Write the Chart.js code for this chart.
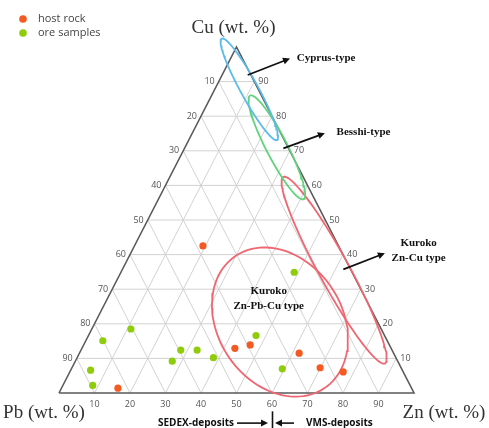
<!DOCTYPE html>
<html><head><meta charset="utf-8">
<script src="https://cdn.jsdelivr.net/npm/chart.js@4.4.0/dist/chart.umd.min.js"></script>
<style>html,body{margin:0;padding:0;background:#fff;}#wrap{position:relative;width:489px;height:428px;}</style>
</head><body><div id="wrap"><canvas id="c" width="489" height="428"></canvas></div>
<script>
// ---- data (wt. %) ----
const hostCu = [42.5, 12.9, 13.9, 11.5, 7.3, 6.1, 1.4];
const hostZn = [19.3, 43.1, 46.9, 61.9, 69.9, 77.0, 15.9];
const hostPb = [38.2, 44.0, 39.2, 26.6, 22.8, 16.9, 82.7];
const oreCu = [18.5, 15.1, 12.4, 12.4, 9.2, 10.2, 16.6, 34.9, 7.0, 6.6, 2.2];
const oreZn = [11.0, 4.8, 28.1, 32.7, 27.3, 38.4, 47.2, 48.8, 59.4, 5.6, 8.4];
const orePb = [70.5, 80.1, 59.5, 54.9, 63.5, 51.4, 36.2, 16.3, 33.6, 87.8, 89.4];
const gridTicks = [10, 20, 30, 40, 50, 60, 70, 80, 90];
const seriesNames = ['host rock', 'ore samples'];
const axisTitles = ['Cu (wt. %)', 'Pb (wt. %)', 'Zn (wt. %)'];
// deposit fields: name, centre Cu, centre Zn, semi-axes (wt.% units), tilt
const fieldNames = ['Cyprus-type', 'Besshi-type', 'Kuroko Zn-Cu type', 'Kuroko Zn-Pb-Cu type'];
const fieldCu = [87.8, 71.0, 35.5, 20.5];
const fieldZn = [9.7, 25.85, 59.75, 52.0];
const fieldA = [16.6, 16.75, 30.5, 22.85];
const fieldB = [2.5, 3.0, 4.3, 17.6];
const fieldAngle = [-62, -63.3, -62, -58.7];
const fieldColors = ['#5cbbe9', '#62d27c', '#ef6670', '#ef6670'];
const sedexVmsBoundaryZn = 60;

function toXY(cu, zn, pb) {
  const s = cu + zn + pb;
  const c = cu * 100 / s, z = zn * 100 / s;
  return {x: z + c / 2, y: c};
}
function seg(a, b) { return [toXY(a[0], a[1], a[2]), toXY(b[0], b[1], b[2])]; }

const datasets = [];
const lineBase = {type: 'scatter', showLine: true, pointRadius: 0, fill: false, clip: false, tension: 0};
gridTicks.forEach(t => {
  datasets.push(Object.assign({}, lineBase, {data: seg([t, 0, 100 - t], [t, 100 - t, 0]), borderColor: '#d2d2d2', borderWidth: 1, order: 10}));
  datasets.push(Object.assign({}, lineBase, {data: seg([0, t, 100 - t], [100 - t, t, 0]), borderColor: '#d2d2d2', borderWidth: 1, order: 10}));
  datasets.push(Object.assign({}, lineBase, {data: seg([0, 100 - t, t], [100 - t, 0, t]), borderColor: '#d2d2d2', borderWidth: 1, order: 10}));
});
datasets.push(Object.assign({}, lineBase, {
  data: [toXY(0, 0, 100), toXY(0, 100, 0), toXY(100, 0, 0), toXY(0, 0, 100)],
  borderColor: '#5a5a5a', borderWidth: 1.6, order: 9
}));
fieldNames.forEach((n, i) => {
  const c = toXY(fieldCu[i], fieldZn[i], 100 - fieldCu[i] - fieldZn[i]);
  const th = fieldAngle[i] * Math.PI / 180;
  const pts = [];
  for (let k = 0; k <= 120; k++) {
    const t = k / 120 * 2 * Math.PI;
    const ex = fieldA[i] * Math.cos(t), ey = fieldB[i] * Math.sin(t);
    pts.push({x: c.x + ex * Math.cos(th) - ey * Math.sin(th), y: c.y + ex * Math.sin(th) + ey * Math.cos(th)});
  }
  datasets.push(Object.assign({}, lineBase, {data: pts, borderColor: fieldColors[i], borderWidth: 1.8, order: 5}));
});
datasets.push({type: 'scatter', label: seriesNames[0], data: hostCu.map((c, i) => toXY(c, hostZn[i], hostPb[i])),
  backgroundColor: '#f45a22', borderWidth: 0, pointRadius: 3.6, order: 1, clip: false});
datasets.push({type: 'scatter', label: seriesNames[1], data: oreCu.map((c, i) => toXY(c, oreZn[i], orePb[i])),
  backgroundColor: '#8fcc0c', borderWidth: 0, pointRadius: 3.6, order: 1, clip: false});

function arrow(ctx, x1, y1, x2, y2) {
  const ang = Math.atan2(y2 - y1, x2 - x1), h = 7;
  ctx.beginPath(); ctx.moveTo(x1, y1); ctx.lineTo(x2 - Math.cos(ang) * h * 0.8, y2 - Math.sin(ang) * h * 0.8); ctx.stroke();
  ctx.beginPath(); ctx.moveTo(x2, y2);
  ctx.lineTo(x2 - h * Math.cos(ang) + 3.5 * Math.sin(ang), y2 - h * Math.sin(ang) - 3.5 * Math.cos(ang));
  ctx.lineTo(x2 - h * Math.cos(ang) - 3.5 * Math.sin(ang), y2 - h * Math.sin(ang) + 3.5 * Math.cos(ang));
  ctx.closePath(); ctx.fill();
}

const textPlugin = {
  id: 'ternaryText',
  afterDraw(chart) {
    const ctx = chart.ctx, xs = chart.scales.x, ys = chart.scales.y;
    const P = (x, y) => [xs.getPixelForValue(x), ys.getPixelForValue(y)];
    const T = (cu, zn, pb) => { const d = toXY(cu, zn, pb); return P(d.x, d.y); };
    ctx.save();
    // tick labels
    ctx.font = '9px "Open Sans"'; ctx.fillStyle = '#555'; ctx.textBaseline = 'middle';
    gridTicks.forEach(t => {
      let p = T(100 - t, 0, t); ctx.textAlign = 'right'; ctx.fillText(String(t), p[0] - 4, p[1]);
      p = T(t, 100 - t, 0); ctx.textAlign = 'left'; ctx.fillText(String(t), p[0] + 4, p[1]);
      p = T(0, t, 100 - t); ctx.textAlign = 'center'; ctx.fillText(String(t), p[0], p[1] + 11);
    });
    // axis titles
    ctx.font = '19px "Liberation Serif"'; ctx.fillStyle = '#333'; ctx.textAlign = 'center';
    let a = T(100, 0, 0); ctx.fillText(axisTitles[0], a[0] - 3, a[1] - 19);
    a = T(0, 0, 100); ctx.fillText(axisTitles[1], a[0] - 15, a[1] + 20);
    a = T(0, 100, 0); ctx.fillText(axisTitles[2], a[0] + 30, a[1] + 20);
    // field labels
    ctx.font = 'bold 11px "Liberation Serif"'; ctx.fillStyle = '#111';
    ctx.textAlign = 'left';
    let p = P(66.96, 96.8); ctx.fillText(fieldNames[0], p[0], p[1]);
    p = P(78.2, 75.4); ctx.fillText(fieldNames[1], p[0], p[1]);
    ctx.textAlign = 'center';
    p = P(101.3, 43.3); ctx.fillText('Kuroko', p[0], p[1]);
    p = P(101.3, 38.9); ctx.fillText('Zn-Cu type', p[0], p[1]);
    p = P(59.07, 29.5); ctx.fillText('Kuroko', p[0], p[1]);
    p = P(59.07, 25.1); ctx.fillText('Zn-Pb-Cu type', p[0], p[1]);
    // arrows
    ctx.strokeStyle = '#111'; ctx.fillStyle = '#111'; ctx.lineWidth = 1.8;
    let s = P(53.15, 91.9), e = P(65.07, 96.7); arrow(ctx, s[0], s[1], e[0], e[1]);
    s = P(63.2, 70.7); e = P(74.9, 75.1); arrow(ctx, s[0], s[1], e[0], e[1]);
    s = P(80.1, 35.75); e = P(91.8, 40.4); arrow(ctx, s[0], s[1], e[0], e[1]);
    // SEDEX / VMS
    const bx = xs.getPixelForValue(sedexVmsBoundaryZn);
    const by = ys.getPixelForValue(-8.7);
    ctx.font = 'bold 10px "Open Sans"'; ctx.textBaseline = 'middle';
    ctx.textAlign = 'right'; ctx.fillText('SEDEX-deposits', bx - 38, by);
    ctx.textAlign = 'left'; ctx.fillText('VMS-deposits', bx + 34, by);
    ctx.lineWidth = 1.6;
    arrow(ctx, bx - 35, by, bx - 4, by);
    arrow(ctx, bx + 22, by, bx + 3, by);
    ctx.beginPath(); ctx.moveTo(bx + 0.5, ys.getPixelForValue(-5.3)); ctx.lineTo(bx + 0.5, ys.getPixelForValue(-10.3)); ctx.stroke();
    // legend
    const lc = ['#f45a22', '#8fcc0c'];
    ctx.font = '11px "Open Sans"'; ctx.fillStyle = '#444'; ctx.textAlign = 'left';
    seriesNames.forEach((n, i) => {
      const y = 19 + i * 14;
      ctx.fillStyle = lc[i]; ctx.beginPath(); ctx.arc(23, y, 3.8, 0, 2 * Math.PI); ctx.fill();
      ctx.fillStyle = '#444'; ctx.fillText(n, 38, y);
    });
    ctx.restore();
  }
};

new Chart(document.getElementById('c'), {
  type: 'scatter',
  data: {datasets},
  options: {
    responsive: false, animation: false, devicePixelRatio: 1,
    layout: {padding: {left: 59, right: 75, top: 47, bottom: 35}},
    scales: {
      x: {type: 'linear', min: 0, max: 100, display: false},
      y: {type: 'linear', min: 0, max: 100, display: false}
    },
    plugins: {legend: {display: false}, tooltip: {enabled: false}}
  },
  plugins: [textPlugin]
});
</script></body></html>
